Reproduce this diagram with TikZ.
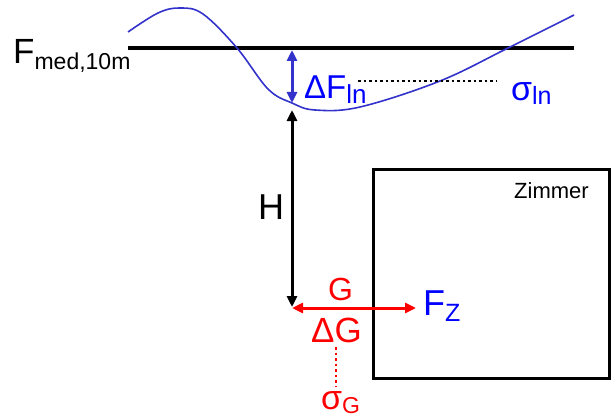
\documentclass[tikz,border=0pt]{standalone}
\usepackage{fontspec}
\setmainfont{Liberation Sans}
\usetikzlibrary{arrows.meta}
\definecolor{curveblue}{RGB}{51,51,204}
\definecolor{labelblue}{RGB}{0,0,255}
\definecolor{signal}{RGB}{255,0,0}
\newcommand{\fs}[1]{\fontsize{#1}{#1}\selectfont}
\tikzset{
  >={Triangle[length=11pt,width=10pt]},
  lbl/.style={inner sep=0pt,anchor=base west,font=\fs{#1}},
  lbl/.default=30,
  dim/.style={<->,line width=3pt,draw=#1},
  dim/.default=black,
  hint/.style={line width=2.5pt,dash pattern=on 2.5pt off 3pt,draw=#1},
  hint/.default=black,
}
\newcommand{\sub}[3]{{\fs{#1}\raisebox{-#2pt}{#3}}}
\begin{document}
\begin{tikzpicture}[x=1pt,y=-1pt]
  \useasboundingbox (0,0) rectangle (612,417);
  % reference level and fluctuating value
  \coordinate (lineL) at (128,48);
  \coordinate (lineR) at (574,48);
  \draw[line width=4pt] (lineL) -- (lineR);
  \draw[curveblue,line width=1.6pt] plot[smooth,tension=0.6] coordinates
    {(128,32) (158,13) (180,8) (203,14) (237,48) (268,89) (292,103) (315,110)
     (360,107) (440,81) (508,48) (574,15)};
  \node[lbl=35] (fmed) at (13,64) {F\sub{23}{6}{med,10m}};
  % deviation
  \coordinate (dfTop) at (292,50);
  \coordinate (dfBot) at (292,103);
  \draw[dim=curveblue] (dfTop) -- (dfBot);
  \node[lbl=33,text=labelblue] (dfln) at (304,99) {ΔF\sub{26}{5}{ln}};
  \node[lbl=34,text=labelblue] (sigln) at (511,100) {σ\sub{25}{4}{ln}};
  \coordinate (dotA) at (358,81);
  \coordinate (dotB) at (497,81);
  \draw[hint] (dotA) -- (dotB);
  % height
  \coordinate (hTop) at (292,110);
  \coordinate (hBot) at (292,307);
  \draw[dim] (hTop) -- (hBot);
  \node[lbl=36] (hlab) at (258,219) {H};
  % room
  \draw[line width=3pt] (373,169) rectangle (609,378);
  \node[lbl=22] (zimmer) at (514,198) {Zimmer};
  % ground value
  \coordinate (gL) at (292,308);
  \coordinate (gR) at (416,308);
  \draw[dim=signal] (gL) -- (gR);
  \node[lbl=32,text=signal] (glab) at (328,300) {G};
  \node[lbl=36,text=labelblue] (fz) at (423,315) {F\sub{25}{6}{Z}};
  \node[lbl=35,text=signal] (dglab) at (311,342) {ΔG};
  \node[lbl=34,text=signal] (sigg) at (321,409) {σ\sub{23}{4}{G}};
  \coordinate (dotC) at (336,347);
  \coordinate (dotD) at (336,386);
  \draw[hint=signal] (dotC) -- (dotD);
\end{tikzpicture}
\end{document}
